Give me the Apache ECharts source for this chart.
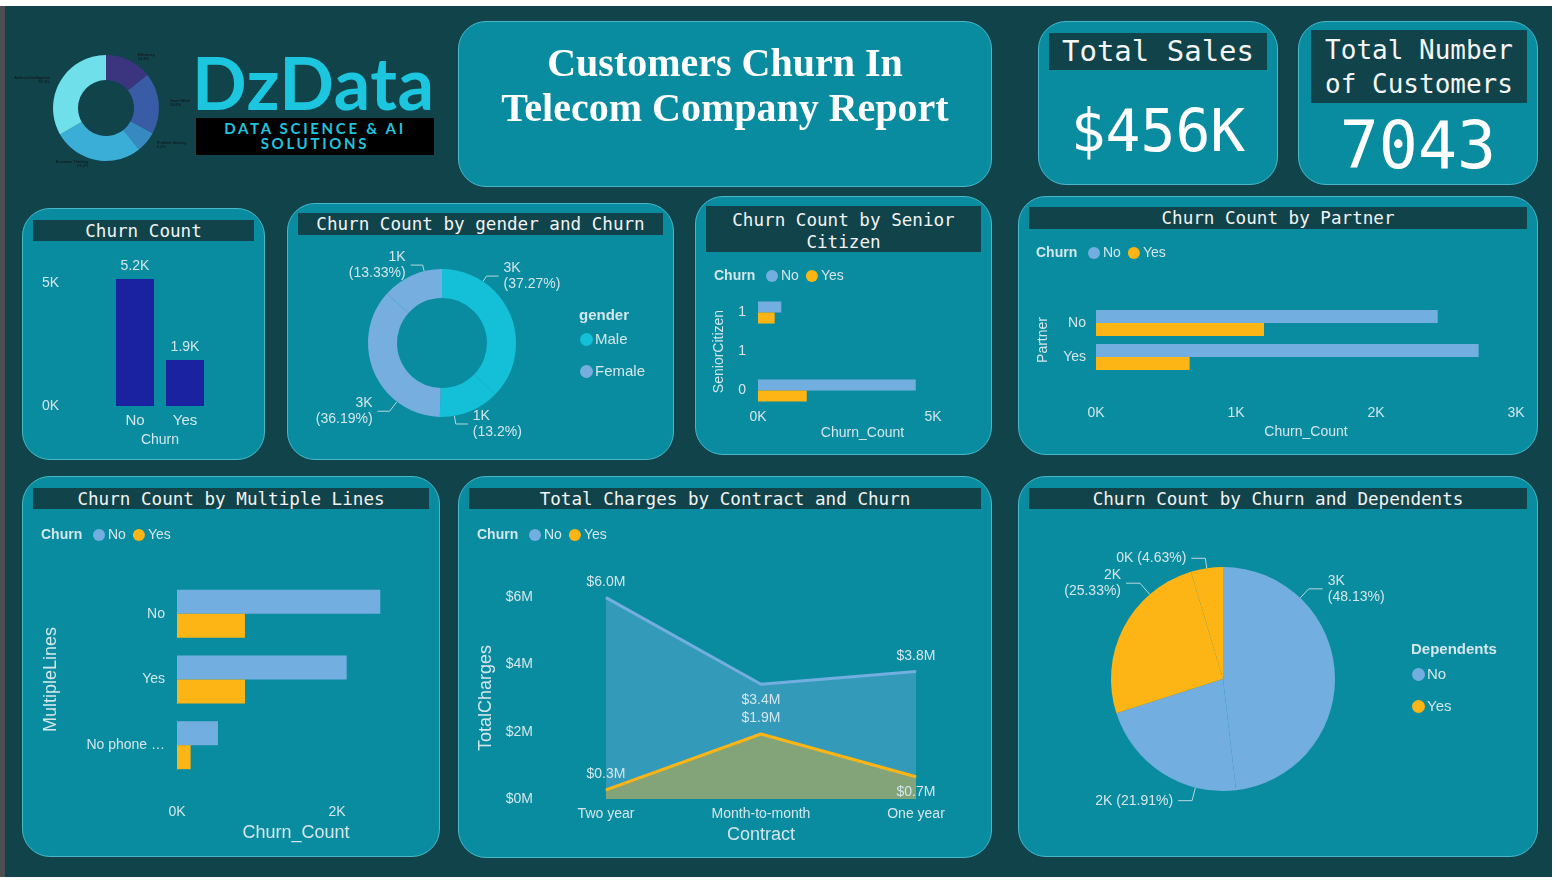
<!DOCTYPE html>
<html>
<head>
<meta charset="utf-8">
<title>Customers Churn In Telecom Company Report</title>
<script src="https://cdn.jsdelivr.net/npm/echarts@6/dist/echarts.min.js"></script>
<style>
  html, body { margin: 0; padding: 0; background: #ffffff; }
  body { width: 1560px; height: 881px; position: relative; overflow: hidden; }
  #board { position: absolute; left: 5px; top: 6px; width: 1547px; height: 871px; background: #11434b; }
  #edge { position: absolute; left: 0; top: 6px; width: 5px; height: 871px; background: #4b4f51; }
  .card { position: absolute; box-sizing: border-box; background: #0a8ca0; border: 1.5px solid #48b7c9; border-radius: 28px; overflow: hidden; }
  .chart { position: absolute; left: 0; top: 0; width: 100%; height: 100%; }
  .hdr { position: absolute; z-index: 2; background: #11434b; color: #f2f4f4; font-family: "DejaVu Sans Mono", monospace; font-size: 17.6px; text-align: center; line-height: 22px; white-space: nowrap; }
  .kpi-hdr { position: absolute; background: #11434b; color: #f4f6f6; font-family: "DejaVu Sans Mono", monospace; text-align: center; white-space: nowrap; }
  .kpi-val { position: absolute; left: 0; width: 100%; text-align: center; color: #ffffff; font-family: "DejaVu Sans Mono", monospace; }
  #title { position: absolute; left: 0; width: 100%; top: 18px; text-align: center; color: #ffffff; font-family: "Liberation Serif", serif; font-weight: bold; font-size: 40px; line-height: 45px; }
  #dz { position: absolute; left: 192px; top: 34px; color: #1bc6de; font-family: Lato, sans-serif; font-weight: bold; font-size: 72px; line-height: 96px; letter-spacing: 0.5px; }
  #dzbox { position: absolute; left: 196px; top: 118px; width: 238px; height: 37px; background: #000000; color: #21c4dc; font-family: Lato, sans-serif; font-weight: bold; font-size: 15px; line-height: 15px; letter-spacing: 2.7px; text-align: center; padding-top: 3px; box-sizing: border-box; }
  #logo { position: absolute; left: 0; top: 30px; width: 195px; height: 155px; }
</style>
</head>
<body>
<div id="edge"></div>
<div id="board"></div>

<div id="logo"></div>
<div id="dz">DzData</div>
<div id="dzbox">DATA SCIENCE &amp; AI<br>SOLUTIONS</div>

<div class="card" style="left:458px;top:21px;width:534px;height:166px;">
  <div id="title">Customers Churn In<br>Telecom Company Report</div>
</div>

<div class="card" style="left:1038px;top:21px;width:240px;height:164px;">
  <div class="kpi-hdr" style="left:10px;top:11px;width:218px;height:37px;font-size:29px;line-height:37px;">Total Sales</div>
  <div class="kpi-val" style="top:72px;font-size:58px;line-height:74px;">$456K</div>
</div>

<div class="card" style="left:1298px;top:21px;width:240px;height:164px;">
  <div class="kpi-hdr" style="left:12px;top:8px;width:216px;height:73px;font-size:26px;line-height:34px;padding-top:3px;box-sizing:border-box;">Total Number<br>of Customers</div>
  <div class="kpi-val" style="top:84px;font-size:65px;line-height:80px;">7043</div>
</div>

<div class="card" style="left:22px;top:208px;width:243px;height:252px;">
  <div class="hdr" style="left:10px;top:11px;width:221px;height:21px;line-height:23px;">Churn Count</div>
  <div class="chart" id="c1"></div>
</div>

<div class="card" style="left:287px;top:203px;width:387px;height:257px;">
  <div class="hdr" style="left:10px;top:9px;width:365px;height:22px;">Churn Count by gender and Churn</div>
  <div class="chart" id="c2"></div>
</div>

<div class="card" style="left:695px;top:196px;width:297px;height:259px;">
  <div class="hdr" style="left:10px;top:9px;width:275px;height:46px;line-height:22px;padding-top:3px;box-sizing:border-box;">Churn Count by Senior<br>Citizen</div>
  <div class="chart" id="c3"></div>
</div>

<div class="card" style="left:1018px;top:196px;width:520px;height:259px;">
  <div class="hdr" style="left:10px;top:10px;width:498px;height:22px;">Churn Count by Partner</div>
  <div class="chart" id="c4"></div>
</div>

<div class="card" style="left:22px;top:476px;width:418px;height:381px;">
  <div class="hdr" style="left:10px;top:11px;width:396px;height:21px;">Churn Count by Multiple Lines</div>
  <div class="chart" id="c5"></div>
</div>

<div class="card" style="left:458px;top:476px;width:534px;height:382px;">
  <div class="hdr" style="left:10px;top:11px;width:512px;height:21px;">Total Charges by Contract and Churn</div>
  <div class="chart" id="c6"></div>
</div>

<div class="card" style="left:1018px;top:476px;width:520px;height:381px;">
  <div class="hdr" style="left:10px;top:11px;width:498px;height:21px;">Churn Count by Churn and Dependents</div>
  <div class="chart" id="c7"></div>
</div>

<script>
// data
var churnCats = ['No', 'Yes'];
var churnTotals = [5174, 1869];

// gender donut, clockwise from the top
var genderNames = ['Male', 'Male', 'Female', 'Female'];
var genderCounts = [2625, 930, 2549, 939];

var seniorCats = ['0', '0.5', '1'];
var seniorNo = [4508, null, 666];
var seniorYes = [1393, null, 476];

var partnerCats = ['No', 'Yes'];
var partnerNo = [2441, 2733];
var partnerYes = [1200, 669];

var linesCats = ['No', 'Yes', 'No phone service'];
var linesNo = [2541, 2121, 512];
var linesYes = [849, 850, 170];

var contractCats = ['Two year', 'Month-to-month', 'One year'];
var chargesNo = [5980000, 3410000, 3790000];
var chargesYes = [270000, 1930000, 660000];

// dependents pie, clockwise from the top
var depNames = ['No', 'No', 'Yes', 'Yes'];
var depCounts = [3390, 1543, 1784, 326];

var logoNames = ['Efficiency', 'Team Work', 'Problem Solving', 'Business Thinking', 'Artificial Intelligence'];
var logoShares = [14.3, 18.6, 6.4, 27.4, 33.3];

var LBL = '#d3e6ea';
var FONT = '"Liberation Sans", Arial, sans-serif';
var BLUE = '#72aee0';
var GOLD = '#fdb515';

function kFmt(v) { return Math.round(v / 1000) + 'K'; }

// plain share of the total, two decimals, like the report shows it
function share(v, list) {
    var sum = list.reduce(function (a, b) { return a + b; }, 0);
    return parseFloat((v / sum * 100).toFixed(2));
}

// move a pie label and re-anchor its leader line on the rim
function shiftLabel(shift, center, r) {
    return function (p) {
        var s = shift[p.dataIndex];
        if (!s[0] && !s[1]) return {};
        var pts = p.labelLinePoints;
        var p1 = [pts[1][0] + s[0], pts[1][1] + s[1]];
        var p2 = [pts[2][0] + s[0], pts[2][1] + s[1]];
        var vx = p1[0] - center[0], vy = p1[1] - center[1];
        var len = Math.sqrt(vx * vx + vy * vy);
        var p0 = [center[0] + vx / len * r, center[1] + vy / len * r];
        return { dx: s[0], dy: s[1], labelLinePoints: [p0, p1, p2] };
    };
}

function churnLegend(x, y) {
    return {
        title: {
            text: 'Churn', left: x, top: y, padding: 0,
            textStyle: { color: LBL, fontFamily: FONT, fontSize: 14, fontWeight: 'bold' }
        },
        legend: {
            left: x + 52, top: y, padding: 0, icon: 'circle', itemWidth: 12, itemHeight: 12, itemGap: 7,
            data: ['No', 'Yes'],
            textStyle: { color: LBL, fontFamily: FONT, fontSize: 14, padding: [0, 0, 0, -2] }
        }
    };
}

function axisText(size) {
    return { color: LBL, fontFamily: FONT, fontSize: size || 14 };
}

// logo donut
var logoChart = echarts.init(document.getElementById('logo'));
logoChart.setOption({
    animation: false,
    color: ['#3b3580', '#3a5ba6', '#3789c2', '#3aaed6', '#6fe0ea'],
    series: [{
        type: 'pie', radius: [28, 53], center: [106, 78],
        label: { color: '#111111', fontSize: 4, fontFamily: FONT, formatter: '{b}\n{c}%' },
        labelLine: { show: false, length: 4, length2: 2 },
        data: logoNames.map(function (n, i) { return { name: n, value: logoShares[i] }; })
    }]
});

// churn count
var c1 = echarts.init(document.getElementById('c1'));
c1.setOption({
    animation: false,
    grid: { left: 87, top: 62, width: 100, height: 135, outerBoundsMode: 'none' },
    xAxis: {
        type: 'category', data: churnCats,
        axisLine: { show: false }, axisTick: { show: false },
        axisLabel: Object.assign(axisText(15), { margin: 7 }),
        name: 'Churn', nameLocation: 'middle', nameGap: 27, nameTextStyle: axisText(14)
    },
    yAxis: {
        type: 'value', min: 0, max: 5500, interval: 5000,
        splitLine: { show: false },
        axisLabel: Object.assign(axisText(14), { margin: 51, formatter: kFmt, showMaxLabel: false })
    },
    series: [{
        type: 'bar', data: churnTotals, barWidth: 38,
        itemStyle: { color: '#1a22a0' },
        label: {
            show: true, position: 'top', distance: 6, color: LBL, fontFamily: FONT, fontSize: 14,
            formatter: function (p) { return (p.value / 1000).toFixed(1) + 'K'; }
        }
    }]
});

// gender donut
var genderColor = { Male: '#14bfd8', Female: '#76aee0' };
var genderCenter = [154, 139];
var genderLabelShift = [[-31, -35], [-17, 5], [23, 36], [14, -3]];
var c2 = echarts.init(document.getElementById('c2'));
c2.setOption({
    animation: false,
    title: {
        text: 'gender', left: 291, top: 104, padding: 0,
        textStyle: { color: LBL, fontFamily: FONT, fontSize: 15, fontWeight: 'bold' }
    },
    legend: {
        orient: 'vertical', left: 292, top: 128, padding: 0, icon: 'circle', itemWidth: 13, itemHeight: 13, itemGap: 17,
        data: ['Male', 'Female'],
        textStyle: { color: LBL, fontFamily: FONT, fontSize: 15, padding: [0, 0, 0, -3] }
    },
    series: [{
        type: 'pie', radius: [45, 74], center: genderCenter,
        startAngle: 90, clockwise: true,
        label: {
            color: LBL, fontFamily: FONT, fontSize: 14, lineHeight: 16, bleedMargin: 0,
            formatter: function (p) { return kFmt(p.value) + '\n(' + share(p.value, genderCounts) + '%)'; }
        },
        labelLine: { length: 8, length2: 12, lineStyle: { color: '#b9d6dc', width: 1 } },
        labelLayout: shiftLabel(genderLabelShift, genderCenter, 74),
        data: genderCounts.map(function (v, i) {
            return { name: genderNames[i], value: v, itemStyle: { color: genderColor[genderNames[i]] } };
        })
    }]
});

// senior citizen
var lg3 = churnLegend(18, 72);
var c3 = echarts.init(document.getElementById('c3'));
c3.setOption({
    animation: false,
    color: [BLUE, GOLD],
    title: lg3.title, legend: lg3.legend,
    grid: { left: 62, top: 96, width: 175, height: 117, outerBoundsMode: 'none' },
    xAxis: {
        type: 'value', min: 0, max: 5000, interval: 5000, splitLine: { show: false },
        axisLabel: Object.assign(axisText(14), { margin: 0, formatter: kFmt }),
        name: 'Churn_Count', nameLocation: 'middle', nameGap: 16,
        nameTextStyle: Object.assign(axisText(14), { padding: [0, 0, 0, 34] })
    },
    yAxis: {
        type: 'category', data: seniorCats,
        axisLine: { show: false }, axisTick: { show: false },
        axisLabel: Object.assign(axisText(14), {
            margin: 12, formatter: function (v) { return String(Math.round(parseFloat(v))); }
        }),
        name: 'SeniorCitizen', nameLocation: 'middle', nameGap: 32, nameTextStyle: axisText(14)
    },
    series: [
        { name: 'No', type: 'bar', data: seniorNo, barWidth: 11, barGap: '0%' },
        { name: 'Yes', type: 'bar', data: seniorYes, barWidth: 11, barGap: '0%' }
    ]
});

// partner
var lg4 = churnLegend(17, 49);
var c4 = echarts.init(document.getElementById('c4'));
c4.setOption({
    animation: false,
    color: [BLUE, GOLD],
    title: lg4.title, legend: lg4.legend,
    grid: { left: 77, top: 109, width: 420, height: 68, outerBoundsMode: 'none' },
    xAxis: {
        type: 'value', min: 0, max: 3000, interval: 1000, splitLine: { show: false },
        axisLabel: Object.assign(axisText(14), { margin: 32, formatter: kFmt }),
        name: 'Churn_Count', nameLocation: 'middle', nameGap: 51, nameTextStyle: axisText(14)
    },
    yAxis: {
        type: 'category', data: partnerCats, inverse: true,
        axisLine: { show: false }, axisTick: { show: false },
        axisLabel: Object.assign(axisText(14), { margin: 10 }),
        name: 'Partner', nameLocation: 'middle', nameGap: 46, nameTextStyle: axisText(14)
    },
    series: [
        { name: 'No', type: 'bar', data: partnerNo, barWidth: 13, barGap: '0%' },
        { name: 'Yes', type: 'bar', data: partnerYes, barWidth: 13, barGap: '0%' }
    ]
});

// multiple lines
var lg5 = churnLegend(18, 51);
var c5 = echarts.init(document.getElementById('c5'));
c5.setOption({
    animation: false,
    color: [BLUE, GOLD],
    title: lg5.title, legend: lg5.legend,
    grid: { left: 154, top: 104, width: 208, height: 197, outerBoundsMode: 'none' },
    xAxis: {
        type: 'value', min: 0, max: 2600, interval: 2000, splitLine: { show: false },
        axisLabel: Object.assign(axisText(14), { margin: 27, formatter: kFmt, showMaxLabel: false }),
        name: 'Churn_Count', nameLocation: 'middle', nameGap: 44,
        nameTextStyle: Object.assign(axisText(18), { padding: [0, 0, 0, 30] })
    },
    yAxis: {
        type: 'category', data: linesCats, inverse: true,
        axisLine: { show: false }, axisTick: { show: false },
        axisLabel: Object.assign(axisText(14), { margin: 12, width: 84, overflow: 'truncate', ellipsis: '…' }),
        name: 'MultipleLines', nameLocation: 'middle', nameGap: 117, nameTextStyle: axisText(18)
    },
    series: [
        { name: 'No', type: 'bar', data: linesNo, barWidth: 24, barGap: '0%' },
        { name: 'Yes', type: 'bar', data: linesYes, barWidth: 24, barGap: '0%' }
    ]
});

// total charges
function mFmt(v) { return '$' + (v / 1e6).toFixed(1) + 'M'; }
var noLabelPos = ['top', 'bottom', 'top'];
var yesLabelPos = ['top', 'top', 'bottom'];
function withLabelPos(vals, pos) {
    return vals.map(function (v, i) { return { value: v, label: { position: pos[i] } }; });
}
var lg6 = churnLegend(18, 51);
var c6 = echarts.init(document.getElementById('c6'));
c6.setOption({
    animation: false,
    color: [BLUE, GOLD],
    title: lg6.title, legend: lg6.legend,
    grid: { left: 147, top: 120, width: 310, height: 202, outerBoundsMode: 'none' },
    xAxis: {
        type: 'category', data: contractCats, boundaryGap: false,
        axisLine: { show: false }, axisTick: { show: false },
        axisLabel: Object.assign(axisText(14), { margin: 8 }),
        name: 'Contract', nameLocation: 'middle', nameGap: 26, nameTextStyle: axisText(18)
    },
    yAxis: {
        type: 'value', min: 0, max: 6000000, interval: 2000000, splitLine: { show: false },
        axisLabel: Object.assign(axisText(14), {
            margin: 73, formatter: function (v) { return '$' + (v / 1e6) + 'M'; }
        }),
        name: 'TotalCharges', nameLocation: 'middle', nameGap: 110, nameTextStyle: axisText(18)
    },
    series: [
        {
            name: 'No', type: 'line', data: withLabelPos(chargesNo, noLabelPos),
            symbol: 'circle', symbolSize: 1, itemStyle: { color: BLUE },
            lineStyle: { width: 3, color: BLUE },
            areaStyle: { color: BLUE, opacity: 0.4 },
            label: { show: true, distance: 8, color: LBL, fontFamily: FONT, fontSize: 14, formatter: function (p) { return mFmt(p.value); } }
        },
        {
            name: 'Yes', type: 'line', data: withLabelPos(chargesYes, yesLabelPos),
            symbol: 'circle', symbolSize: 1, itemStyle: { color: GOLD },
            lineStyle: { width: 3, color: GOLD },
            areaStyle: { color: GOLD, opacity: 0.4 },
            label: { show: true, distance: 8, color: LBL, fontFamily: FONT, fontSize: 14, formatter: function (p) { return mFmt(p.value); } }
        }
    ]
});

// dependents pie
var depColor = { No: BLUE, Yes: GOLD };
var depCenter = [204, 202];
var depBreak = [true, false, true, false];
var depLabelShift = [[-36, -83], [35, 19], [25, -39], [0, 0]];
var c7 = echarts.init(document.getElementById('c7'));
c7.setOption({
    animation: false,
    title: {
        text: 'Dependents', left: 392, top: 165, padding: 0,
        textStyle: { color: LBL, fontFamily: FONT, fontSize: 15, fontWeight: 'bold' }
    },
    legend: {
        orient: 'vertical', left: 393, top: 190, padding: 0, icon: 'circle', itemWidth: 13, itemHeight: 13, itemGap: 17,
        data: ['No', 'Yes'],
        textStyle: { color: LBL, fontFamily: FONT, fontSize: 15, padding: [0, 0, 0, -3] }
    },
    series: [{
        type: 'pie', radius: 112, center: depCenter,
        startAngle: 90, clockwise: true,
        label: {
            color: LBL, fontFamily: FONT, fontSize: 14, lineHeight: 16, bleedMargin: 0,
            formatter: function (p) {
                return kFmt(p.value) + (depBreak[p.dataIndex] ? '\n' : ' ') + '(' + share(p.value, depCounts) + '%)';
            }
        },
        labelLine: { length: 10, length2: 14, lineStyle: { color: '#b9d6dc', width: 1 } },
        labelLayout: shiftLabel(depLabelShift, depCenter, 112),
        data: depCounts.map(function (v, i) {
            return { name: depNames[i], value: v, itemStyle: { color: depColor[depNames[i]] } };
        })
    }]
});
</script>
</body>
</html>
